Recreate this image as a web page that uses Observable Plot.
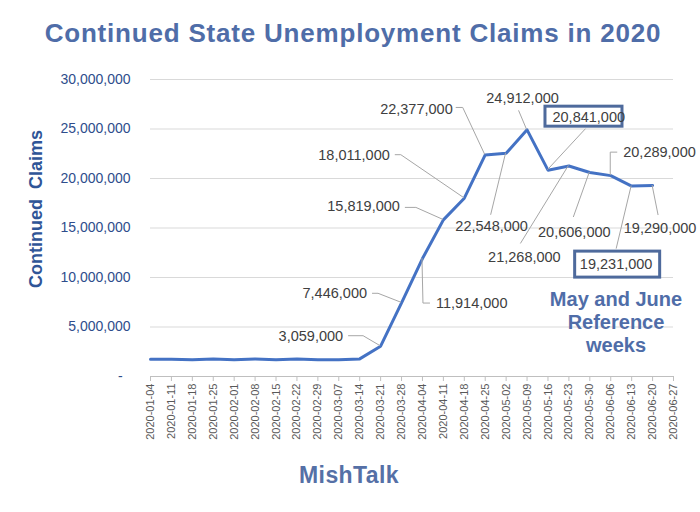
<!DOCTYPE html>
<html><head><meta charset="utf-8">
<script src="https://cdn.jsdelivr.net/npm/d3@7"></script>
<script src="https://cdn.jsdelivr.net/npm/@observablehq/plot@0.6"></script>
<style>
body{margin:0;background:#fff;}
#wrap{position:relative;width:700px;height:512px;overflow:hidden;font-family:"Liberation Sans",Arial,sans-serif;background:#fff;}
.ov{position:absolute;white-space:nowrap;font-weight:bold;}
</style></head><body><div id="wrap"></div>
<script>
// ---- data ----
const weeks = ["2020-01-04","2020-01-11","2020-01-18","2020-01-25","2020-02-01","2020-02-08","2020-02-15","2020-02-22","2020-02-29","2020-03-07","2020-03-14","2020-03-21","2020-03-28","2020-04-04","2020-04-11","2020-04-18","2020-04-25","2020-05-02","2020-05-09","2020-05-16","2020-05-23","2020-05-30","2020-06-06","2020-06-13","2020-06-20","2020-06-27"];
const claims = [1750000,1750000,1680000,1770000,1680000,1770000,1680000,1770000,1680000,1700000,1780000,3059000,7446000,11914000,15819000,18011000,22377000,22548000,24912000,20841000,21268000,20606000,20289000,19231000,19290000];
const yTicks = [0,5000000,10000000,15000000,20000000,25000000,30000000];
const labeledWeeks = ["2020-03-21","2020-03-28","2020-04-04","2020-04-11","2020-04-18","2020-04-25","2020-05-02","2020-05-09","2020-05-16","2020-05-23","2020-05-30","2020-06-06","2020-06-13","2020-06-20"];
const boxedWeeks = ["2020-05-16","2020-06-13"];
const titleText = "Continued State Unemployment Claims in 2020";
const yLabel = "Continued\u00a0 Claims";
const sourceText = "MishTalk";
const noteLines = ["May and June","Reference","weeks"];

// ---- label layout (pixel offsets from each labelled point) ----
const layout = {
  "2020-03-21": {dx:-37, dy:-10, anchor:"end", leader:[[-17,-10],[-32,-10]]},
  "2020-03-28": {dx:-34, dy:-9, anchor:"end", leader:[[-23,-9],[-29,-9]]},
  "2020-04-04": {dx:14, dy:45, anchor:"start", leader:[[1,45],[8,45]]},
  "2020-04-11": {dx:-43, dy:-13, anchor:"end", leader:[[-27,-12],[-38,-12]]},
  "2020-04-18": {dx:-74, dy:-43, anchor:"end", leader:[[-63,-43],[-69,-43]]},
  "2020-04-25": {dx:-32, dy:-46, anchor:"end", leader:[[-22,-47],[-29,-47]]},
  "2020-05-02": {dx:-14, dy:73, anchor:"middle", leader:[[-15,62]]},
  "2020-05-09": {dx:-4, dy:-31, anchor:"middle", leader:[[-8,-19]]},
  "2020-05-16": {dx:5, dy:-53, anchor:"start", leader:[[38,-41]], box:[-4,-65,80,23]},
  "2020-05-23": {dx:-44, dy:91, anchor:"middle", leader:[[-48,78]]},
  "2020-05-30": {dx:-15, dy:60, anchor:"middle", leader:[[-16,45]]},
  "2020-06-06": {dx:13, dy:-23, anchor:"start", leader:[[0,-23],[7,-23]]},
  "2020-06-13": {dx:-15, dy:78, anchor:"middle", leader:[[-15,63]], box:[-58,64,88,29]},
  "2020-06-20": {dx:8, dy:43, anchor:"middle", leader:[[6,30]]}
};

const rows = claims.map((v,i)=>({i, week:weeks[i], v}));
const fmt = d3.format(",");

const plot = Plot.plot({
  width:700, height:512,
  marginTop:79, marginBottom:136, marginLeft:150, marginRight:27,
  style:{fontFamily:"Liberation Sans, Arial, sans-serif", background:"white", overflow:"visible"},
  x:{type:"linear", domain:[0, weeks.length-1]},
  y:{domain:[0,30000000]},
  marks:[
    Plot.gridY(yTicks.slice(1), {stroke:"#d9d9d9", strokeOpacity:1}),
    Plot.axisY(yTicks, {tickSize:0, tickPadding:20, fontSize:14, fill:"#2e4d8c", label:null,
      tickFormat:d=> d===0 ? "-\u2007" : fmt(d)}),
    Plot.ruleY([0], {stroke:"#bfbfbf"}),
    Plot.axisX(d3.range(weeks.length), {tickSize:5, tickPadding:2, stroke:"#bfbfbf", strokeOpacity:1,
      tickRotate:-90, fontSize:11, fill:"#595959", label:null, tickFormat:i=>weeks[i]}),
    Plot.line(rows, {x:"i", y:"v", stroke:"#4472C4", strokeWidth:3, strokeLinejoin:"round"})
  ]
});

document.getElementById("wrap").appendChild(plot);

// ---- annotations through the plot's own scales ----
const sx = plot.scale("x"), sy = plot.scale("y");
const svg = d3.select(plot);
const g = svg.append("g").attr("font-family","Liberation Sans, Arial, sans-serif");
labeledWeeks.forEach(w=>{
  const L = layout[w];
  const i = weeks.indexOf(w), v = claims[i];
  const px = sx.apply(i), py = sy.apply(v);
  const pts = [[px,py], ...L.leader.map(([a,b])=>[px+a,py+b])];
  g.insert("polyline", ":first-child").attr("points", pts.map(p=>p.join(",")).join(" "))
    .attr("fill","none").attr("stroke","#a6a6a6").attr("stroke-width",1);
  if (boxedWeeks.includes(w) && L.box) {
    const [bx,by,bw,bh] = L.box;
    g.append("rect").attr("x",px+bx+1.5).attr("y",py+by+1.5).attr("width",bw-3).attr("height",bh-3)
      .attr("fill","white").attr("stroke","#4e6a9c").attr("stroke-width",3);
  }
  g.append("text").attr("x",px+L.dx).attr("y",py+L.dy).attr("dy","0.35em")
    .attr("text-anchor",L.anchor).attr("font-size",14.5).attr("fill","#404040").text(fmt(v));
});
// y axis title
svg.append("text").attr("transform","translate(42,209) rotate(-90)").attr("text-anchor","middle")
  .attr("font-family","Liberation Sans, Arial, sans-serif").attr("font-weight","bold")
  .attr("font-size",18).attr("fill","#2f5597").text(yLabel);

// ---- overlays ----
const wrap = d3.select("#wrap");
wrap.append("div").attr("class","ov")
  .style("left","0px").style("width","706px").style("text-align","center").style("top","18px")
  .style("font-size","26px").style("letter-spacing","0.8px").style("color","#4f6da8").text(titleText);
wrap.append("div").attr("class","ov")
  .style("left","0px").style("width","698px").style("text-align","center").style("top","462px")
  .style("font-size","23px").style("letter-spacing","0.4px").style("color","#5570a6").text(sourceText);
wrap.append("div").attr("class","ov")
  .style("left","516px").style("width","200px").style("text-align","center").style("top","288px")
  .style("font-size","20px").style("line-height","23px").style("color","#4f6da8")
  .html(noteLines.join("<br>"));
</script>
</body></html>
